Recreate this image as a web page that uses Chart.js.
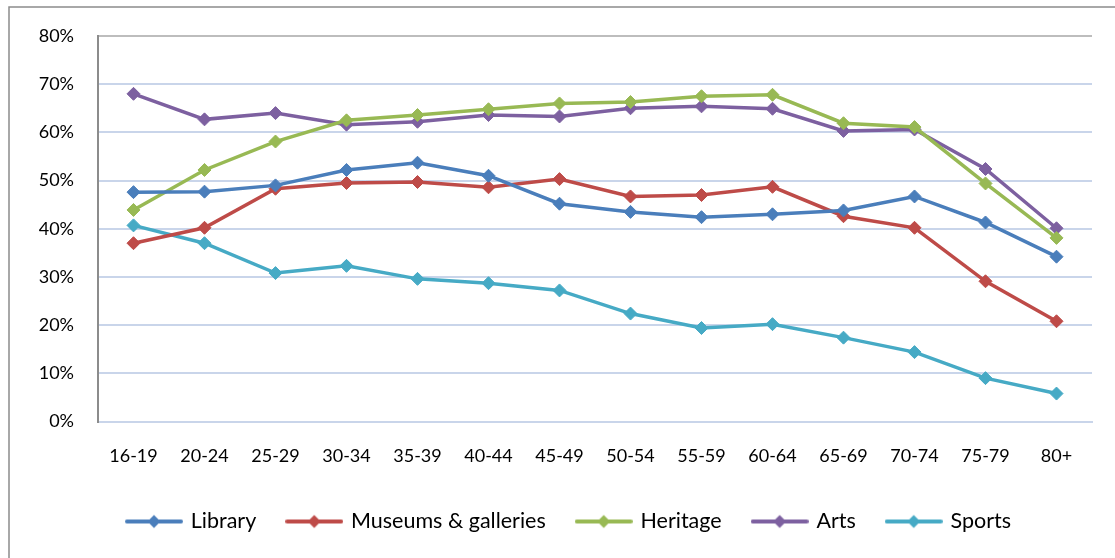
<!DOCTYPE html>
<html>
<head>
<meta charset="utf-8">
<script src="https://cdn.jsdelivr.net/npm/chart.js@4"></script>
<style>
  html, body { margin: 0; padding: 0; background: #fff; overflow: hidden; }
  #wrap { position: relative; width: 1115px; height: 558px; }
</style>
</head>
<body>
<div id="wrap"><canvas id="chart" width="1115" height="558"></canvas></div>
<script>
// Participation rates by age group
const ageGroups = ['16-19', '20-24', '25-29', '30-34', '35-39', '40-44', '45-49',
                   '50-54', '55-59', '60-64', '65-69', '70-74', '75-79', '80+'];

const library   = [47.6, 47.7, 49.0, 52.2, 53.7, 51.0, 45.2, 43.5, 42.4, 43.0, 43.8, 46.7, 41.3, 34.2];
const museums   = [37.0, 40.2, 48.3, 49.5, 49.7, 48.6, 50.3, 46.7, 47.0, 48.7, 42.6, 40.2, 29.1, 20.8];
const heritage  = [43.9, 52.2, 58.1, 62.5, 63.6, 64.8, 66.0, 66.3, 67.5, 67.8, 61.9, 61.1, 49.4, 38.1];
const arts      = [68.0, 62.7, 64.0, 61.6, 62.2, 63.6, 63.3, 65.0, 65.4, 64.9, 60.3, 60.6, 52.4, 40.1];
const sports    = [40.7, 37.0, 30.8, 32.3, 29.6, 28.7, 27.2, 22.4, 19.4, 20.2, 17.4, 14.4, 9.0, 5.8];

const yTicks = [0, 10, 20, 30, 40, 50, 60, 70, 80];

const seriesNames  = ['Library', 'Museums & galleries', 'Heritage', 'Arts', 'Sports'];
const seriesValues = [library, museums, heritage, arts, sports];
const seriesColors = ['#4A7EBB', '#BE4B48', '#98B954', '#7D60A0', '#46AAC5'];

const FONT = 'Lato, "Open Sans", sans-serif';

// Legend swatch: a short line with a diamond in the middle
function legendSwatch(color) {
  const c = document.createElement('canvas');
  c.width = 58; c.height = 16;
  const g = c.getContext('2d');
  g.strokeStyle = color;
  g.lineWidth = 4;
  g.lineCap = 'round';
  g.beginPath(); g.moveTo(2, 8); g.lineTo(56, 8); g.stroke();
  g.fillStyle = color;
  g.beginPath();
  g.moveTo(29, 1.5); g.lineTo(35.5, 8); g.lineTo(29, 14.5); g.lineTo(22.5, 8);
  g.closePath(); g.fill();
  return c;
}

const swatches = seriesColors.map(legendSwatch);

// Outer frame around the whole chart
const framePlugin = {
  id: 'frame',
  beforeDraw(chart) {
    const ctx = chart.ctx;
    ctx.save();
    ctx.strokeStyle = '#8C8C8C';
    ctx.lineWidth = 1.5;
    ctx.beginPath();
    ctx.moveTo(9, 600); ctx.lineTo(9, 7); ctx.lineTo(1200, 7);
    ctx.stroke();
    ctx.restore();
  }
};

// Center the legend row under the whole frame rather than the padded area
const legendShift = {
  id: 'legendShift',
  afterLayout(chart) {
    const lg = chart.legend;
    if (lg) { lg.left += 23.5; lg.right += 23.5; }
  }
};

new Chart(document.getElementById('chart'), {
  type: 'line',
  data: {
    labels: ageGroups,
    datasets: seriesNames.map((name, i) => ({
      label: name,
      data: seriesValues[i],
      borderColor: seriesColors[i],
      backgroundColor: seriesColors[i],
      borderWidth: 3.5,
      pointStyle: 'rectRot',
      pointRadius: 6.5,
      pointHoverRadius: 6.5,
      pointBorderWidth: 1,
      pointBackgroundColor: seriesColors[i],
      pointBorderColor: seriesColors[i],
      tension: 0,
      fill: false
    }))
  },
  options: {
    responsive: false,
    animation: false,
    devicePixelRatio: 1,
    layout: { padding: { left: 0, right: 23, top: 36, bottom: 15.75 } },
    scales: {
      x: {
        offset: true,
        grid: { display: false, drawTicks: false },
        border: { display: true, color: '#C9D5EA', width: 2 },
        ticks: { color: '#000', font: { family: FONT, size: 18 }, padding: 24, maxRotation: 0, autoSkip: false },
        afterFit(scale) { scale.height = 57.25; }
      },
      y: {
        min: 0, max: 80,
        afterBuildTicks(scale) { scale.ticks = yTicks.map(v => ({ value: v })); },
        grid: {
          drawTicks: false,
          lineWidth: 2,
          color: ctx => (ctx.tick && ctx.tick.value === 80) ? '#BDBDBD' : '#C9D5EA'
        },
        border: { display: true, color: '#8C8C8C', width: 2 },
        ticks: {
          color: '#000',
          font: { family: FONT, size: 18 },
          padding: 24,
          callback: v => v + '%'
        },
        afterFit(scale) { scale.width = 98; }
      }
    },
    plugins: {
      legend: {
        position: 'bottom',
        labels: {
          usePointStyle: true,
          pointStyleWidth: 52,
          padding: 32,
          color: '#000',
          font: { family: FONT, size: 21.5 },
          generateLabels(chart) {
            return chart.data.datasets.map((ds, i) => ({
              text: ds.label,
              pointStyle: swatches[i],
              fillStyle: ds.borderColor,
              strokeStyle: ds.borderColor,
              lineWidth: 0,
              hidden: false,
              datasetIndex: i,
              fontColor: '#000'
            }));
          }
        }
      },
      tooltip: { enabled: false }
    }
  },
  plugins: [framePlugin, legendShift]
});
</script>
</body>
</html>
